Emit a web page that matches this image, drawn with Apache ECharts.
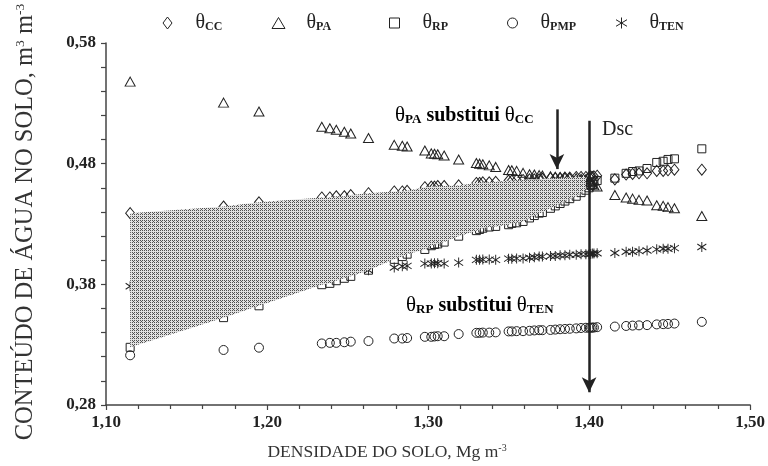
<!DOCTYPE html>
<html>
<head>
<meta charset="utf-8">
<script src="https://cdn.jsdelivr.net/npm/echarts@6/dist/echarts.min.js"></script>
<style>
  html, body { margin: 0; padding: 0; background: #fff; }
  #chart { width: 768px; height: 466px; }
</style>
</head>
<body>
<div id="chart"></div>
<script>
// densidade do solo (Mg m-3)
const densidade = [1.115, 1.173, 1.195, 1.234, 1.239, 1.243, 1.248, 1.252, 1.263, 1.279, 1.284, 1.287,
  1.298, 1.302, 1.304, 1.306, 1.310, 1.319, 1.330, 1.332, 1.334, 1.338, 1.342, 1.350, 1.352, 1.355,
  1.359, 1.363, 1.366, 1.369, 1.371, 1.376, 1.379, 1.382, 1.385, 1.388, 1.392, 1.395, 1.398, 1.400,
  1.401, 1.402, 1.403, 1.405, 1.416, 1.423, 1.427, 1.431, 1.436, 1.442, 1.446, 1.449, 1.453, 1.470]
const thetaCC = [0.439, 0.4445, 0.448, 0.452, 0.452, 0.453, 0.453, 0.454, 0.4555, 0.457, 0.457, 0.4575,
  0.4605, 0.461, 0.461, 0.4615, 0.4615, 0.462, 0.464, 0.464, 0.4645, 0.4645, 0.465, 0.466, 0.466, 0.4665,
  0.4665, 0.467, 0.467, 0.467, 0.4675, 0.468, 0.468, 0.468, 0.4685, 0.4685, 0.469, 0.469, 0.469, 0.469,
  0.4695, 0.469, 0.4695, 0.47, 0.467, 0.471, 0.4715, 0.472, 0.472, 0.474, 0.474, 0.4745, 0.475, 0.475]
const thetaPA = [0.548, 0.5306, 0.5232, 0.5106, 0.5093, 0.5081, 0.5065, 0.505, 0.5013, 0.4956, 0.4948, 0.4942,
  0.4909, 0.4885, 0.4882, 0.4878, 0.4868, 0.4835, 0.4805, 0.48, 0.4795, 0.4786, 0.4773, 0.4748, 0.4745, 0.474,
  0.4724, 0.4712, 0.471, 0.4705, 0.4702, 0.4695, 0.4692, 0.469, 0.4688, 0.4685, 0.468, 0.4675, 0.467, 0.466,
  0.465, 0.463, 0.462, 0.461, 0.454, 0.452, 0.451, 0.45, 0.4495, 0.4455, 0.445, 0.444, 0.443, 0.4366]
const thetaRP = [0.3278, 0.3524, 0.3622, 0.3797, 0.3808, 0.383, 0.385, 0.3866, 0.3917, 0.4007, 0.403, 0.405,
  0.4089, 0.412, 0.413, 0.4135, 0.415, 0.4199, 0.4245, 0.4255, 0.4265, 0.4275, 0.428, 0.4294, 0.4305, 0.431,
  0.4321, 0.435, 0.437, 0.439, 0.4395, 0.443, 0.445, 0.447, 0.449, 0.451, 0.453, 0.456, 0.458, 0.46,
  0.462, 0.463, 0.465, 0.466, 0.468, 0.472, 0.4735, 0.474, 0.476, 0.481, 0.482, 0.4835, 0.484, 0.4923]
const thetaPMP = [0.3212, 0.3256, 0.3275, 0.331, 0.3315, 0.3315, 0.332, 0.3325, 0.333, 0.3351, 0.3351, 0.3355,
  0.3365, 0.3365, 0.3368, 0.337, 0.337, 0.3388, 0.3398, 0.3398, 0.34, 0.34, 0.3402, 0.341, 0.341, 0.3412,
  0.3412, 0.3415, 0.3418, 0.342, 0.342, 0.3422, 0.3425, 0.3428, 0.343, 0.3432, 0.3435, 0.3438, 0.344, 0.344,
  0.344, 0.3442, 0.3442, 0.3445, 0.345, 0.3455, 0.3458, 0.346, 0.3462, 0.3468, 0.347, 0.3472, 0.3475, 0.3489]
const thetaTEN = [0.3784, 0.386, 0.388, 0.389, 0.3895, 0.39, 0.3905, 0.391, 0.3917, 0.3939, 0.395, 0.3953,
  0.3972, 0.3972, 0.3975, 0.3975, 0.3972, 0.398, 0.4003, 0.4003, 0.4005, 0.4005, 0.4003, 0.4013, 0.4013, 0.4015,
  0.4015, 0.402, 0.4025, 0.403, 0.403, 0.4035, 0.4035, 0.404, 0.404, 0.4045, 0.4045, 0.405, 0.405, 0.405,
  0.4052, 0.4055, 0.4055, 0.4057, 0.406, 0.407, 0.407, 0.4075, 0.408, 0.409, 0.4095, 0.4095, 0.41, 0.411]

const seriesNames = ['θCC', 'θPA', 'θRP', 'θPMP', 'θTEN']
const seriesValues = [thetaCC, thetaPA, thetaRP, thetaPMP, thetaTEN]
const xTicks = ['1,10', '1,20', '1,30', '1,40', '1,50']
const yTicks = ['0,28', '0,38', '0,48', '0,58']
const limiteFaixa = 1.398 // fim da faixa hachurada
const densidadeCritica = 1.40 // Dsc
const setaPA = 1.38

const SERIF = 'Liberation Serif'
const INK = '#222'

// padrão da área hachurada
const pat = document.createElement('canvas')
pat.width = 4
pat.height = 4
const g = pat.getContext('2d')
g.fillStyle = '#e0e0e0'
g.fillRect(0, 0, 4, 4)
g.fillStyle = '#505050'
;[[0, 0], [2, 0], [1, 1], [0, 2], [2, 2]].forEach(([x, y]) => g.fillRect(x, y, 1, 1))

const symbols = [
  { symbol: 'diamond', size: [9, 11], icon: [9, 12] },
  { symbol: 'triangle', size: [10, 9], icon: [13, 11] },
  { symbol: 'rect', size: [8, 8], icon: [10, 10] },
  { symbol: 'circle', size: 9, icon: [10, 10] },
  { symbol: 'path://M5 0L5 10M0 2L10 8M0 8L10 2', size: [9, 10], icon: [11, 12] }
]

const pairs = arr => densidade.map((d, i) => [d, arr[i]])

const series = seriesNames.map((name, i) => ({
  name,
  type: 'scatter',
  data: pairs(seriesValues[i]),
  symbol: symbols[i].symbol,
  symbolSize: symbols[i].size,
  itemStyle: { color: 'rgba(255,255,255,0)', borderColor: INK, borderWidth: 1, opacity: 1 },
  emphasis: { disabled: true },
  z: 2
}))

// faixa entre θCC e θRP
series.push({
  name: 'faixa',
  type: 'custom',
  data: [[1.3, 0.4]],
  z: 5,
  silent: true,
  renderItem: (params, api) => {
    const idx = densidade.map((d, i) => i).filter(i => densidade[i] <= limiteFaixa)
    const top = idx.map(i => api.coord([densidade[i], thetaCC[i]]))
    const bottom = idx.slice().reverse().map(i => api.coord([densidade[i], thetaRP[i]]))
    return {
      type: 'polygon',
      shape: { points: top.concat(bottom) },
      style: { fill: { image: pat, repeat: 'repeat' } }
    }
  }
})

// setas
series.push({
  name: 'setas',
  type: 'scatter',
  data: [],
  z: 8,
  silent: true,
  markLine: {
    silent: true,
    animation: false,
    label: { show: false },
    symbol: ['none', 'arrow'],
    symbolSize: [11, 15],
    data: [
      [{ coord: [setaPA, 0.525] }, { coord: [setaPA, 0.4755] }],
      [{ coord: [densidadeCritica, 0.5155] }, { coord: [densidadeCritica, 0.2905] }]
    ],
    lineStyle: { color: INK, width: 2.5, type: 'solid' }
  }
})

const legendCenter = [162, 273, 389, 507, 616]
const legend = seriesNames.map((name, i) => {
  const [w, h] = symbols[i].icon
  return {
    data: [name],
    left: legendCenter[i] - w / 2,
    top: 8,
    itemWidth: w,
    itemHeight: h,
    itemGap: 0,
    selectedMode: false,
    itemStyle: { borderWidth: 1 },
    formatter: n => '{th|' + n.charAt(0) + '}{sub|' + n.slice(1) + '}',
    textStyle: {
      rich: {
        th: { fontFamily: SERIF, fontSize: 20, color: INK, padding: [0, 0, 0, 23 - w / 2] },
        sub: { fontFamily: SERIF, fontSize: 12, fontWeight: 'bold', color: INK, verticalAlign: 'bottom' }
      }
    }
  }
})

const annRich = {
  th: { fontFamily: SERIF, fontSize: 21, color: INK },
  sub: { fontFamily: SERIF, fontSize: 13, fontWeight: 'bold', color: INK, verticalAlign: 'bottom' },
  b: { fontFamily: SERIF, fontSize: 20, fontWeight: 'bold', color: INK }
}

const chart = echarts.init(document.getElementById('chart'), null, { renderer: 'canvas' })
chart.setOption({
  animation: false,
  backgroundColor: '#fff',
  legend,
  grid: { left: 106, right: 17, top: 43, bottom: 57 },
  xAxis: {
    type: 'value',
    min: 1.10,
    max: 1.50,
    interval: 0.1,
    splitLine: { show: false },
    axisLine: { lineStyle: { color: '#444', width: 1.5 } },
    axisTick: { length: 5, lineStyle: { color: '#444', width: 1.2 } },
    minorTick: { show: true, splitNumber: 5, length: 4, lineStyle: { color: '#444', width: 1.2 } },
    axisLabel: {
      margin: 9,
      fontFamily: SERIF, fontSize: 17, fontWeight: 'bold', color: INK,
      formatter: v => xTicks[Math.round((v - 1.10) / 0.1)] || ''
    },
    name: '{n|DENSIDADE DO SOLO, Mg m}{sup|-3}',
    nameLocation: 'middle',
    nameGap: 38,
    nameTextStyle: {
      padding: [0, 82, 0, 0],
      rich: {
        n: { fontFamily: SERIF, fontSize: 17.5, color: '#333' },
        sup: { fontFamily: SERIF, fontSize: 10, color: '#333', verticalAlign: 'top' }
      }
    }
  },
  yAxis: {
    type: 'value',
    min: 0.28,
    max: 0.58,
    interval: 0.1,
    splitLine: { show: false },
    axisLine: { show: true, lineStyle: { color: '#444', width: 1.5 } },
    axisTick: { show: true, length: 5, lineStyle: { color: '#444', width: 1.2 } },
    minorTick: { show: true, splitNumber: 5, length: 5, lineStyle: { color: '#444', width: 1.2 } },
    axisLabel: {
      margin: 10,
      fontFamily: SERIF, fontSize: 17, fontWeight: 'bold', color: INK,
      formatter: v => yTicks[Math.round((v - 0.28) / 0.1)] || ''
    },
    name: '{n|CONTEÚDO DE ÁGUA NO SOLO, m}{sup|3}{n| m}{sup|-3}',
    nameLocation: 'middle',
    nameGap: 68,
    nameTextStyle: {
      padding: [0, 0, 0, 4],
      rich: {
        n: { fontFamily: SERIF, fontSize: 24.5, color: '#333' },
        sup: { fontFamily: SERIF, fontSize: 13.5, color: '#333', verticalAlign: 'top' }
      }
    }
  },
  graphic: [
    {
      type: 'text', left: 395, top: 105, silent: true,
      style: { text: '{th|θ}{sub|PA}{b| substitui }{th|θ}{sub|CC}', rich: annRich }
    },
    {
      type: 'text', left: 406, top: 295, silent: true,
      style: { text: '{th|θ}{sub|RP}{b| substitui }{th|θ}{sub|TEN}', rich: annRich }
    },
    {
      type: 'text', left: 602, top: 120, silent: true,
      style: { text: 'Dsc', fontFamily: SERIF, fontSize: 20, fill: INK }
    }
  ],
  series
})
</script>
</body>
</html>
